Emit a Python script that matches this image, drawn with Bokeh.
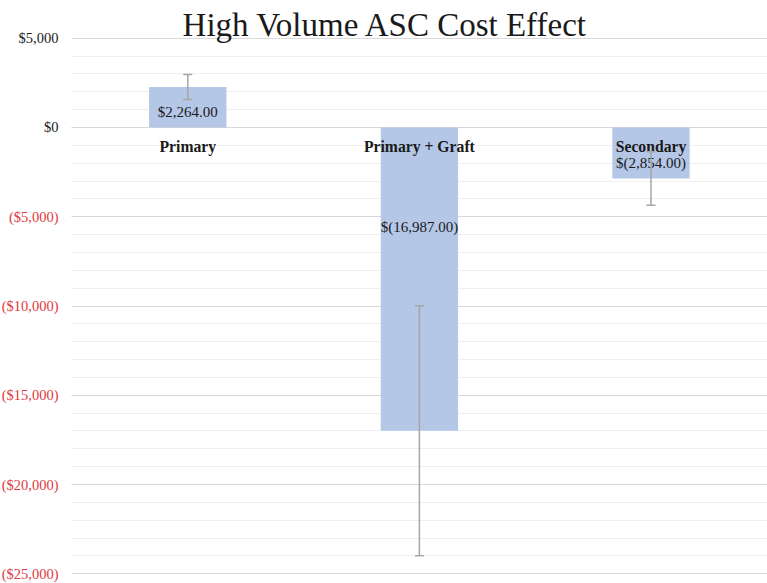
from bokeh.plotting import figure
from bokeh.models import (ColumnDataSource, Range1d, Whisker, TeeHead, FixedTicker,
                          Grid, Label)
from bokeh.core.properties import value
from bokeh.embed import file_html
from bokeh.resources import INLINE

# ---- data ----
categories = ["Primary", "Primary + Graft", "Secondary"]
values = [2264.00, -16987.00, -2854.00]
errors = [700, 7000, 1500]
value_labels = ["$2,264.00", "$(16,987.00)", "$(2,854.00)"]
label_pos = [840, -5600, -2000]
tick_values = [5000, 0, -5000, -10000, -15000, -20000, -25000]
minor_step = 1000
title = "High Volume ASC Cost Effect"

def fmt_tick(v):
    s = "${:,.0f}".format(abs(v))
    return "(" + s + ")" if v < 0 else s

FONT = "Liberation Serif"
W, H = 767, 583

p = figure(x_range=Range1d(-0.3087, 3.003), y_range=Range1d(-25543, 7112),
           width=W, height=H, output_backend="svg", toolbar_location=None,
           x_axis_location=None, y_axis_location=None, title=None,
           min_border=0, min_border_left=0, min_border_right=0,
           min_border_top=0, min_border_bottom=0)
p.outline_line_color = None
p.grid.visible = False

ymin, ymax = min(tick_values), max(tick_values)
grid_ticker = FixedTicker(ticks=tick_values,
                          minor_ticks=list(range(ymin, ymax + 1, minor_step)))
p.add_layout(Grid(dimension=1, ticker=grid_ticker, cross_bounds=(0, 3.003),
                  grid_line_color="#d9d9d9", minor_grid_line_color="#efefef"))

xs = [i + 0.5 for i in range(len(categories))]
bars = ColumnDataSource(dict(x=xs, cats=categories, vals=values,
                             upper=[v + e for v, e in zip(values, errors)],
                             lower=[v - e for v, e in zip(values, errors)],
                             lab=value_labels, lpos=label_pos))
p.vbar(x="x", top="vals", bottom=0, width=0.334, source=bars,
       fill_color="#b4c7e7", line_color=None)

p.text(x="x", y="lpos", text="lab", source=bars, text_font=value(FONT),
       text_font_size="15px", text_align="center", text_baseline="middle",
       text_color="#1a1a1a")
p.text(x="x", y=0, text="cats", source=bars, text_font=value(FONT),
       text_font_size="15.7px", text_font_style="bold", text_align="center",
       text_baseline="middle", y_offset=19, text_color="#1a1a1a")

head = dict(size=9, line_color="#a6a6a6", line_width=1.5)
p.add_layout(Whisker(base="x", upper="upper", lower="lower", source=bars,
                     line_color="#a6a6a6", line_width=1.5, level="annotation",
                     upper_head=TeeHead(**head), lower_head=TeeHead(**head)))

ticks_src = ColumnDataSource(dict(
    y=tick_values, x=[0] * len(tick_values),
    t=[fmt_tick(v) for v in tick_values],
    c=["#1a1a1a" if v >= 0 else "#e0393e" for v in tick_values]))
p.text(x="x", y="y", text="t", text_color="c", source=ticks_src, x_offset=-13.5,
       text_font=value(FONT), text_font_size="14.5px",
       text_align="right", text_baseline="middle")

p.add_layout(Label(x=1.3536, y=5712, text=title, text_font=FONT,
                   text_font_size="33px", text_align="center",
                   text_baseline="alphabetic", text_color="#1a1a1a"))

open("out.html", "w").write(file_html(p, INLINE))
